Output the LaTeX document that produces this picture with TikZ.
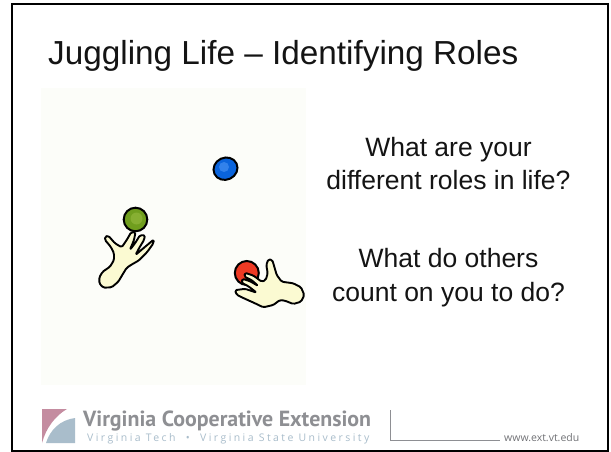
\documentclass[tikz,border=0pt]{standalone}
\usepackage{fontspec}
\setmainfont{Liberation Sans}
\newfontfamily\extfont{PT Sans}
\newfontfamily\univfont[LetterSpace=23.2]{Open Sans}
\newfontfamily\urlfont{Open Sans}
\definecolor{handfill}{HTML}{FBFAD2}
\definecolor{logogray}{HTML}{8E8F93}
\definecolor{logoblue}{HTML}{A9BDCB}
\definecolor{logopink}{HTML}{C48CA0}
\definecolor{panel}{HTML}{FCFDF9}
\definecolor{bluea}{RGB}{10,100,220}
\definecolor{blueb}{RGB}{50,130,235}
\definecolor{greena}{RGB}{112,158,30}
\definecolor{greenb}{RGB}{135,175,50}
\definecolor{reda}{RGB}{238,58,36}
\tikzset{
  titletext/.style={inner sep=0pt,anchor=base west,font=\fontsize{33.3}{36}\selectfont,text=black!92},
  bodytext/.style={inner sep=0pt,anchor=base,font=\fontsize{26.5}{28}\selectfont,text=black!92},
  ball/.style={draw=black,line width=2pt},
  hand/.style={draw=black,line width=1.9pt,fill=handfill,line join=round,rounded corners=1.5pt},
}
\begin{document}
\begin{tikzpicture}[x=1pt,y=-1pt]
\useasboundingbox (0,0) rectangle (611,452);
\fill[white] (0,0) rectangle (611,452);
\fill[panel] (41,88) rectangle (306,385);
\draw[line width=2.2pt,black] (608,4) -- (12,4) -- (12,451) -- (608,451);
\draw[line width=1.2pt,black] (608,3) -- (608,452);
\node[titletext] (title) at (48,64.5) {Juggling Life – Identifying Roles};
\node[bodytext] (q1a) at (448.5,157) {What are your};
\node[bodytext] (q1b) at (448.5,189.5) {different roles in life?};
\node[bodytext] (q2a) at (448.5,267) {What do others};
\node[bodytext] (q2b) at (448.5,301.5) {count on you to do?};
% blue ball
\draw[ball,fill=bluea,rotate around={25:(225.5,168.7)}] (225.5,168.7) ellipse (12.2 and 11);
\fill[blueb] (224,167) circle (5);
% green ball
\draw[ball,fill=greena] (135.5,219.5) circle (11.8);
\fill[greenb] (136.5,218.5) circle (6);
% hand 1
\draw[hand] (105,236.7) -- (108.3,235.7) -- (115,243.3) -- (121.7,247.3) -- (126.7,240) -- (131.2,232.2) -- (135.5,232.2) -- (134,240) -- (129.8,250) -- (135,243.3) -- (140,235.2) -- (145,235.2) -- (144,240) -- (139,248.3) -- (135.5,255) -- (143.3,248.3) -- (153.8,239.5) -- (153.4,243.3) -- (147.2,252) -- (138.8,260.5) -- (131.7,264.5) -- (126.7,267.8) -- (123.3,273.3) -- (118.3,281.7) -- (111.7,287.3) -- (103.3,287.7) -- (99.3,283.3) -- (99.3,277.3) -- (102.7,271.7) -- (110,266.7) -- (114,260) -- (114,253.3) -- (110.7,246.7) -- (105,240) -- cycle;
% red ball
\draw[ball,fill=reda] (246.8,273) circle (12);
% hand 2
\draw[hand] (268.3,259.3) -- (272.3,260) -- (274.3,266.7) -- (276.7,275) -- (281.7,281.7) -- (293.3,283.3) -- (301,287.3) -- (304.3,295) -- (301,301.7) -- (293.3,304) -- (285,300.7) -- (280,300) -- (273.3,305) -- (263.3,307.3) -- (255,303.3) -- (245,298.8) -- (236.7,294.8) -- (235,290.2) -- (245,288.8) -- (256.7,292.7) -- (248.3,286.2) -- (241.7,282.8) -- (242.3,278.8) -- (250,281.2) -- (258.3,286) -- (251.7,280.2) -- (244.3,276.5) -- (245,272.8) -- (253.3,275.5) -- (261.7,281.7) -- (265.7,280) -- (267.7,273.3) -- (266.3,265) -- cycle;
% logo
\fill[logopink] (42,409) -- (67,409) .. controls (55,416) and (46,428) .. (42,443) -- cycle;
\fill[logoblue] (46,443) .. controls (50,430) and (60,420) .. (75,418) -- (75,443) -- cycle;
\node[inner sep=0pt,anchor=base west,text=logogray,font=\extfont\bfseries\fontsize{21.9}{24}\selectfont] (ext) at (83,426) {Virginia Cooperative Extension};
\node[inner sep=0pt,anchor=base west,text=logoblue,font=\univfont\fontsize{10.5}{13}\selectfont] (univ) at (87,441) {Virginia Tech \ • \ Virginia State University};
\coordinate (d1) at (390,410);
\coordinate (d2) at (390,440.5);
\coordinate (d3) at (500,440.5);
\draw[logogray,line width=0.8pt] (d1) -- (d2) -- (d3);
\node[inner sep=0pt,anchor=base west,text=logogray!80!black,font=\urlfont\fontsize{10.5}{12}\selectfont] (url) at (504,441) {www.ext.vt.edu};
\end{tikzpicture}
\end{document}
